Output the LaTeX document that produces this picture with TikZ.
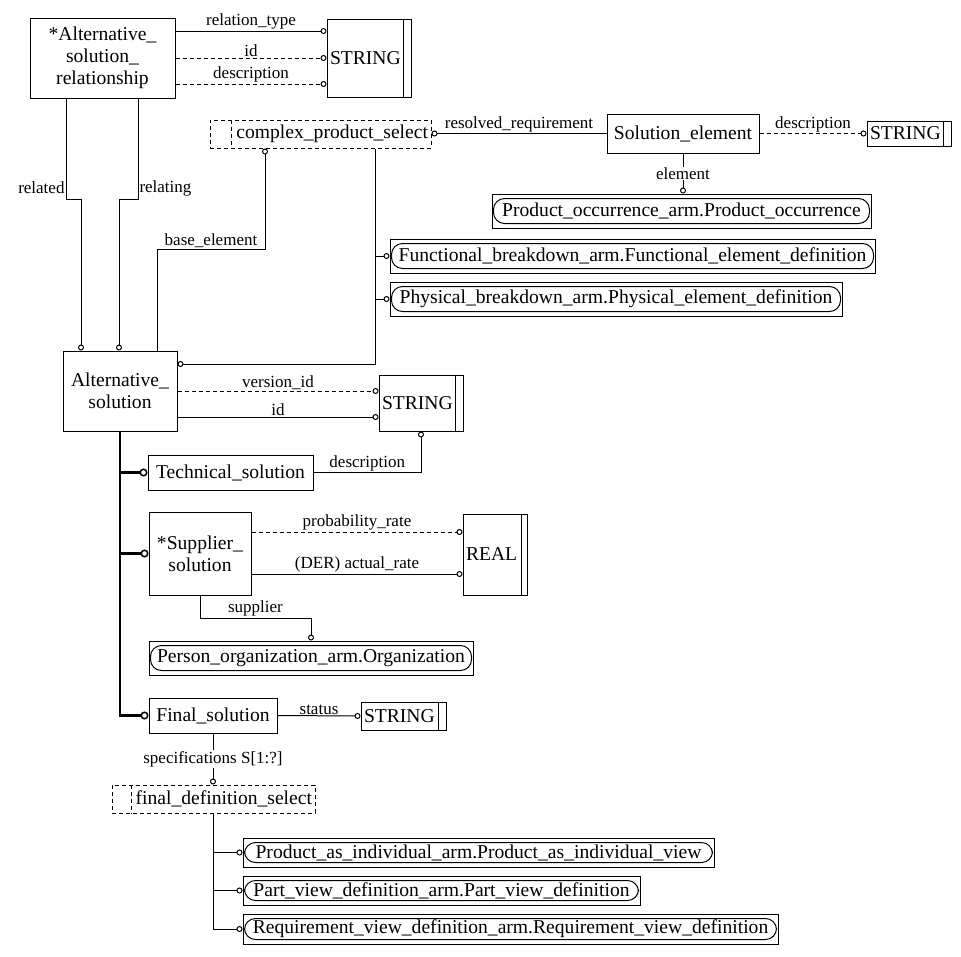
\documentclass[tikz,border=0pt]{standalone}
\usepackage{fontspec}
\setmainfont{Liberation Serif}
\usetikzlibrary{arrows.meta}

\tikzset{
  ent/.style={draw, align=center, inner sep=0pt, font=\fontsize{19.6}{22}\selectfont},
  typ/.style={draw, align=left, inner xsep=3pt, inner ysep=0pt, font=\fontsize{19.6}{22}\selectfont},
  sel/.style={draw, dashed, align=right, inner xsep=3pt, inner ysep=0pt, font=\fontsize{19.6}{22}\selectfont},
  ext/.style={draw, inner sep=0pt, font=\fontsize{19.6}{22}\selectfont},
  lbl/.style={inner sep=1pt, font=\fontsize{17}{19}\selectfont},
  attr/.style={-{Circle[open, length=6pt, width=6pt]}},
  opt/.style={dash pattern=on 4pt off 3pt},
  sub/.style={line width=2.5pt, -{Circle[open, length=8pt, width=8pt, line width=1.5pt]}},
  dashed/.style={dash pattern=on 4pt off 3pt}
}

\begin{document}
\begin{tikzpicture}[x=1pt, y=-1pt, line width=1pt]
  \useasboundingbox (0,0) rectangle (961,956);

  \node[ent, minimum width=145, minimum height=80] (asr) at (102.5,58) {*Alternative\_\\solution\_\\relationship};
  \node[typ, text width=78pt, minimum height=78pt] (str1) at (369,58) {STRING};
  \node[sel, text width=215pt, minimum height=28pt] (cps) at (320.5,134) {complex\_product\_select};
  \node[ent, minimum width=152, minimum height=39] (sol) at (683,133.5) {Solution\_element};
  \node[typ, text width=78pt, minimum height=25pt] (str3) at (909,133.5) {STRING};
  \node[ext, minimum width=379, minimum height=34] (poc) at (681.5,211) {Product\_occurrence\_arm.Product\_occurrence};
  \node[ext, minimum width=485, minimum height=34] (fun) at (632.5,256) {Functional\_breakdown\_arm.Functional\_element\_definition};
  \node[ext, minimum width=452, minimum height=34] (phy) at (616,299) {Physical\_breakdown\_arm.Physical\_element\_definition};

  \node[ent, minimum width=114, minimum height=80] (as) at (120,391) {Alternative\_\\solution};
  \node[typ, text width=78pt, minimum height=56pt] (str2) at (421,403) {STRING};
  \node[ent, minimum width=165, minimum height=35] (tech) at (230.5,472.5) {Technical\_solution};
  \node[ent, minimum width=102, minimum height=83] (sup) at (200,553.5) {*Supplier\_\\solution};
  \node[typ, text width=58pt, minimum height=81pt] (real) at (495,554.5) {REAL};
  \node[ext, minimum width=324, minimum height=34] (per) at (311,658) {Person\_organization\_arm.Organization};
  \node[ent, minimum width=128, minimum height=35] (fin) at (213,715.5) {Final\_solution};
  \node[typ, text width=79pt, minimum height=28pt] (str4) at (403.5,716) {STRING};

  \node[sel, text width=197pt, minimum height=28pt] (fds) at (213.5,799) {final\_definition\_select};
  \node[ext, minimum width=471, minimum height=29] (pai) at (478.5,852.5) {Product\_as\_individual\_arm.Product\_as\_individual\_view};
  \node[ext, minimum width=397, minimum height=29] (pvd) at (441.5,890.5) {Part\_view\_definition\_arm.Part\_view\_definition};
  \node[ext, minimum width=535, minimum height=30] (rvd) at (510.5,929) {Requirement\_view\_definition\_arm.Requirement\_view\_definition};

  \draw ([xshift=-8pt]str1.north east) -- ([xshift=-8pt]str1.south east);
  \draw ([xshift=-8pt]str2.north east) -- ([xshift=-8pt]str2.south east);
  \draw ([xshift=-8pt]str3.north east) -- ([xshift=-8pt]str3.south east);
  \draw ([xshift=-8pt]str4.north east) -- ([xshift=-8pt]str4.south east);
  \draw ([xshift=-6pt]real.north east) -- ([xshift=-6pt]real.south east);
  \draw[dashed] ([xshift=22pt]cps.north west) -- ([xshift=22pt]cps.south west);
  \draw[dashed] ([xshift=20pt]fds.north west) -- ([xshift=20pt]fds.south west);

  \draw[rounded corners=11pt] ([shift={(2,5)}]poc.north west) rectangle ([shift={(-2,-5)}]poc.south east);
  \draw[rounded corners=11pt] ([shift={(2,5)}]fun.north west) rectangle ([shift={(-2,-5)}]fun.south east);
  \draw[rounded corners=11pt] ([shift={(2,5)}]phy.north west) rectangle ([shift={(-2,-5)}]phy.south east);
  \draw[rounded corners=11pt] ([shift={(2,5)}]per.north west) rectangle ([shift={(-2,-5)}]per.south east);
  \draw[rounded corners=11pt] ([shift={(2,5)}]pai.north west) rectangle ([shift={(-2,-5)}]pai.south east);
  \draw[rounded corners=11pt] ([shift={(2,5)}]pvd.north west) rectangle ([shift={(-2,-5)}]pvd.south east);
  \draw[rounded corners=11pt] ([shift={(2,5)}]rvd.north west) rectangle ([shift={(-2,-5)}]rvd.south east);

  \draw[attr] (asr.east |- 0,31) -- node[lbl, above] {relation\_type} (str1.west |- 0,31);
  \draw[attr, opt] (asr.east |- 0,58) -- node[lbl, above] {id} (str1.west |- 0,58);
  \draw[attr, opt] (asr.east |- 0,84) -- node[lbl, above] {description} (str1.west |- 0,84);
  \draw[attr] (asr.south -| 66,0) -- node[lbl, left, pos=.89] {related} (66,199) -- (81,199) -- (as.north -| 81,0);
  \draw[attr] (asr.south -| 138,0) -- node[lbl, right, pos=.89] {relating} (138,199) -- (119,199) -- (as.north -| 119,0);
  \draw[attr] (as.north -| 157,0) -- (157,249) -- node[lbl, above] {base\_element} (265,249) -- (cps.south -| 265,0);
  \draw[attr] (cps.south -| 375,0) -- (375,364) -- (as.east |- 0,364);
  \draw[attr] (375,256) -- (fun.west);
  \draw[attr] (375,299) -- (phy.west);
  \draw[attr] (sol.west) -- node[lbl, above] {resolved\_requirement} (sol.west -| cps.east);
  \draw[attr, opt] (sol.east) -- node[lbl, above] {description} (str3.west);
  \draw[attr] (sol.south) -- node[lbl, fill=white] {element} (sol.south |- poc.north);

  \draw[attr, opt] (as.east) -- node[lbl, above] {version\_id} (str2.west |- as.east);
  \draw[attr] (as.east |- 0,417) -- node[lbl, above] {id} (str2.west |- 0,417);
  \draw[attr] (tech.east) -| node[lbl, above, pos=.25] {description} (str2.south);

  \draw[sub] (as.south) -- (as.south |- fin.west) -- (fin.west);
  \draw[sub] (as.south |- tech.west) -- (tech.west);
  \draw[sub] (as.south |- sup.west) -- (sup.west);

  \draw[attr, opt] (sup.east |- 0,532) -- node[lbl, above] {probability\_rate} (real.west |- 0,532);
  \draw[attr] (sup.east |- 0,574) -- node[lbl, above] {(DER) actual\_rate} (real.west |- 0,574);
  \draw[attr] (sup.south) -- (sup.south |- 0,618) -| node[lbl, above, pos=.25] {supplier} (per.north);
  \draw[attr] (fin.east) -- node[lbl, above] {status} (str4.west);
  \draw[attr] (fin.south) -- node[lbl, fill=white] {specifications S[1:?]} (fin.south |- fds.north);

  \draw[attr] (fds.south) -- (fds.south |- rvd.west) -- (rvd.west);
  \draw[attr] (fds.south |- pai.west) -- (pai.west);
  \draw[attr] (fds.south |- pvd.west) -- (pvd.west);
\end{tikzpicture}
\end{document}
